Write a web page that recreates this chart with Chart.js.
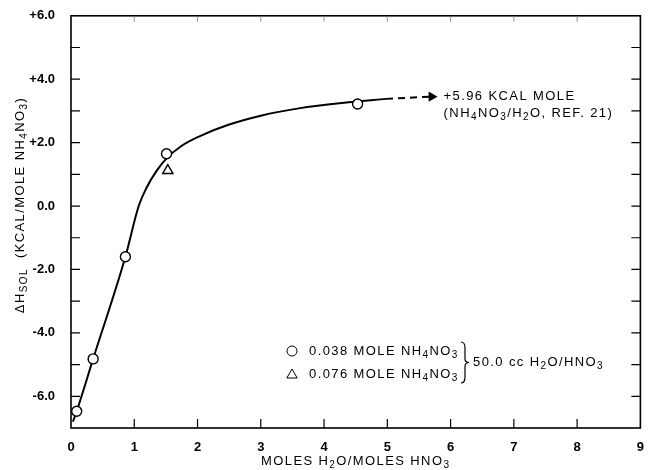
<!DOCTYPE html>
<html>
<head>
<meta charset="utf-8">
<script src="https://cdn.jsdelivr.net/npm/chart.js@4.4.1/dist/chart.umd.min.js"></script>
<style>
  html, body { margin: 0; padding: 0; background: #fff; }
  #wrap { width: 648px; height: 470px; }
</style>
</head>
<body>
<div id="wrap"><canvas id="chart"></canvas></div>
<script>
// Dados
const xTicks = [0, 1, 2, 3, 4, 5, 6, 7, 8, 9];
const yTicks = [-6, -4, -2, 0, 2, 4, 6];
const yTickLabels = ['-6.0', '-4.0', '-2.0', '0.0', '+2.0', '+4.0', '+6.0'];

// curva ajustada (linha cheia)
const curveX = [0.03, 0.09, 0.35, 0.86, 1.07, 1.2, 1.35, 1.5, 1.75, 2.03, 2.5, 3.0, 3.6, 4.38, 4.98];
const curveY = [-6.8, -6.47, -4.82, -1.6, 0.0, 0.6, 1.1, 1.48, 1.9, 2.2, 2.57, 2.85, 3.08, 3.27, 3.38];

// extrapolacao tracejada ate +5.96
const dashX = [4.98, 5.7];
const dashY = [3.38, 3.45];

// 0.038 mole NH4NO3
const circleX = [0.09, 0.35, 0.86, 1.51, 4.53];
const circleY = [-6.47, -4.82, -1.6, 1.65, 3.22];

// 0.076 mole NH4NO3
const triX = [1.53];
const triY = [1.12];

const toPts = (xs, ys) => xs.map((x, i) => ({ x: x, y: ys[i] }));

const FONT = '"Liberation Sans", Arial, sans-serif';

// texto com subscritos: [[texto, 'sub' | '']]
function drawRich(ctx, parts, x, y, size, align) {
    const measure = (p) => {
        ctx.font = (p[1] === 'sub' ? size - 3 : size) + 'px ' + FONT;
        return ctx.measureText(p[0]).width;
    };
    const total = parts.reduce((s, p) => s + measure(p), 0);
    let cx = align === 'center' ? x - total / 2 : x;
    ctx.textAlign = 'left';
    ctx.textBaseline = 'middle';
    parts.forEach(p => {
        const w = measure(p);
        ctx.fillText(p[0], cx, p[1] === 'sub' ? y + 4 : y);
        cx += w;
    });
}

const framePlugin = {
    id: 'frame',
    afterDatasetsDraw(chart) {
        const ctx = chart.ctx;
        const a = chart.chartArea;
        const xs = chart.scales.x;
        const ys = chart.scales.y;
        ctx.save();
        ctx.strokeStyle = '#000';
        ctx.lineWidth = 1.6;
        ctx.strokeRect(a.left, a.top, a.right - a.left, a.bottom - a.top);

        // ticks internos
        ctx.lineWidth = 1.2;
        ctx.beginPath();
        for (let v = -6; v <= 5; v++) {
            const py = ys.getPixelForValue(v);
            ctx.moveTo(a.left, py); ctx.lineTo(a.left + 9, py);
            ctx.moveTo(a.right, py); ctx.lineTo(a.right - 9, py);
        }
        xTicks.slice(1, -1).forEach(v => {
            const px = xs.getPixelForValue(v);
            ctx.moveTo(px, a.bottom); ctx.lineTo(px, a.bottom - 9);
        });
        ctx.stroke();
        ctx.strokeStyle = '#777';
        ctx.lineWidth = 0.8;
        ctx.beginPath();
        xTicks.slice(1, -1).forEach(v => {
            const px = xs.getPixelForValue(v);
            ctx.moveTo(px, a.top); ctx.lineTo(px, a.top + 6);
        });
        ctx.stroke();
        ctx.restore();
    },
    afterDraw(chart) {
        const ctx = chart.ctx;
        const a = chart.chartArea;
        const xs = chart.scales.x;
        const ys = chart.scales.y;
        ctx.save();
        ctx.fillStyle = '#000';
        ctx.letterSpacing = '1.4px';

        // titulo do eixo x
        drawRich(ctx, [['MOLES H', ''], ['2', 'sub'], ['O/MOLES HNO', ''], ['3', 'sub']],
            (a.left + a.right) / 2, 461, 13, 'center');

        // titulo do eixo y
        ctx.save();
        ctx.translate(20, 205);
        ctx.rotate(-Math.PI / 2);
        drawRich(ctx, [['\u0394H', ''], ['SOL', 'sub'], ['  (KCAL/MOLE NH', ''], ['4', 'sub'], ['NO', ''], ['3', 'sub'], [')', '']],
            0, 0, 13, 'center');
        ctx.restore();

        // anotacao da seta
        const tx = xs.getPixelForValue(dashX[1]) + 12;
        const ty = ys.getPixelForValue(dashY[1]);
        drawRich(ctx, [['+5.96 KCAL MOLE', '']], tx, ty, 13, 'left');
        drawRich(ctx, [['(NH', ''], ['4', 'sub'], ['NO', ''], ['3', 'sub'], ['/H', ''], ['2', 'sub'], ['O, REF. 21)', '']],
            tx, ty + 17, 13, 'left');

        // legenda
        const lx = 292, ly1 = 351, ly2 = 374;
        ctx.strokeStyle = '#000';
        ctx.fillStyle = '#fff';
        Chart.helpers.drawPoint(ctx, { pointStyle: 'circle', radius: 5, rotation: 0, borderWidth: 1.4 }, lx, ly1);
        Chart.helpers.drawPoint(ctx, { pointStyle: 'triangle', radius: 6, rotation: 0, borderWidth: 1.4 }, lx, ly2 + 1);
        ctx.fillStyle = '#000';
        drawRich(ctx, [['0.038 MOLE NH', ''], ['4', 'sub'], ['NO', ''], ['3', 'sub']], 309, ly1, 13, 'left');
        drawRich(ctx, [['0.076 MOLE NH', ''], ['4', 'sub'], ['NO', ''], ['3', 'sub']], 309, ly2, 13, 'left');

        // chave
        const bx = 461, by = (ly1 + ly2) / 2;
        ctx.lineWidth = 1.2;
        ctx.beginPath();
        ctx.moveTo(bx, ly1 - 9);
        ctx.quadraticCurveTo(bx + 4, ly1 - 9, bx + 4, ly1 - 3);
        ctx.lineTo(bx + 4, by - 4);
        ctx.quadraticCurveTo(bx + 4, by, bx + 8, by);
        ctx.quadraticCurveTo(bx + 4, by, bx + 4, by + 4);
        ctx.lineTo(bx + 4, ly2 + 3);
        ctx.quadraticCurveTo(bx + 4, ly2 + 9, bx, ly2 + 9);
        ctx.stroke();
        drawRich(ctx, [['50.0 cc H', ''], ['2', 'sub'], ['O/HNO', ''], ['3', 'sub']], 473, by, 13, 'left');
        ctx.restore();
    }
};

new Chart(document.getElementById('chart'), {
    type: 'scatter',
    data: {
        datasets: [
            {
                label: '0.038 MOLE NH4NO3',
                data: toPts(circleX, circleY),
                pointStyle: 'circle',
                pointRadius: 5,
                pointBorderWidth: 1.4,
                pointBackgroundColor: '#fff',
                pointBorderColor: '#000',
                showLine: false,
                order: 0
            },
            {
                label: '0.076 MOLE NH4NO3',
                data: toPts(triX, triY),
                pointStyle: 'triangle',
                pointRadius: 6,
                pointBorderWidth: 1.4,
                pointBackgroundColor: '#fff',
                pointBorderColor: '#000',
                showLine: false,
                order: 0
            },
            {
                label: 'curva',
                data: toPts(curveX, curveY),
                showLine: true,
                borderColor: '#000',
                borderWidth: 2,
                pointRadius: 0,
                cubicInterpolationMode: 'monotone',
                order: 1
            },
            {
                label: 'extrapolacao',
                data: toPts(dashX, dashY),
                showLine: true,
                borderColor: '#000',
                borderWidth: 2,
                borderDash: [7, 5],
                pointRadius: [0, 4],
                pointStyle: 'triangle',
                rotation: 90,
                pointBackgroundColor: '#000',
                pointBorderColor: '#000',
                order: 1
            }
        ]
    },
    options: {
        responsive: true,
        maintainAspectRatio: false,
        animation: false,
        events: [],
        layout: { padding: { left: 0, top: 15, right: 5, bottom: 0 } },
        plugins: {
            legend: { display: false },
            tooltip: { enabled: false }
        },
        scales: {
            x: {
                type: 'linear',
                min: 0,
                max: 9,
                grid: { display: false },
                border: { display: false },
                afterBuildTicks: (s) => { s.ticks = xTicks.map(v => ({ value: v })); },
                afterFit: (s) => { s.height = 42; },
                ticks: {
                    color: '#000',
                    padding: 4,
                    font: { family: FONT, size: 13, weight: 'bold' },
                    callback: (v) => String(v)
                }
            },
            y: {
                type: 'linear',
                min: -7,
                max: 6,
                grid: { display: false },
                border: { display: false },
                afterBuildTicks: (s) => { s.ticks = yTicks.map(v => ({ value: v })); },
                afterFit: (s) => { s.width = 71; },
                ticks: {
                    color: '#000',
                    padding: 8,
                    font: { family: FONT, size: 13, weight: 'bold' },
                    callback: (v) => yTickLabels[yTicks.indexOf(v)]
                }
            }
        }
    },
    plugins: [framePlugin]
});
</script>
</body>
</html>
